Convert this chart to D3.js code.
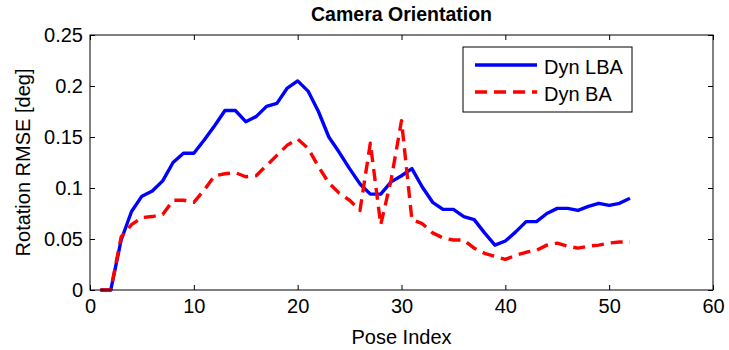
<!DOCTYPE html>
<html>
<head>
<meta charset="utf-8">
<script src="https://cdn.jsdelivr.net/npm/d3@7"></script>
<style>
  html, body { margin: 0; padding: 0; background: #fff; }
  svg text { font-family: "Liberation Sans", Arial, sans-serif; fill: #000; }
</style>
</head>
<body>
<svg id="chart" width="729" height="350"></svg>
<script>
// Pose indices 1..52
const poses = d3.range(1, 53);

const dynLBA = [
  0, 0, 0.049, 0.077, 0.092, 0.097, 0.107, 0.125, 0.134, 0.134,
  0.147, 0.161, 0.176, 0.176, 0.165, 0.170, 0.180, 0.183, 0.198, 0.205,
  0.195, 0.175, 0.150, 0.135, 0.119, 0.104, 0.094, 0.094, 0.106, 0.112,
  0.119, 0.101, 0.086, 0.079, 0.079, 0.072, 0.069, 0.056, 0.044, 0.048,
  0.057, 0.067, 0.067, 0.075, 0.080, 0.080, 0.078, 0.082, 0.085, 0.083,
  0.085, 0.090
];

const dynBA = [
  0, 0, 0.052, 0.064, 0.071, 0.072, 0.074, 0.088, 0.088, 0.086,
  0.098, 0.112, 0.114, 0.115, 0.111, 0.112, 0.122, 0.132, 0.142, 0.148,
  0.139, 0.121, 0.105, 0.095, 0.088, 0.078, 0.144, 0.064, 0.108, 0.166,
  0.069, 0.065, 0.056, 0.051, 0.049, 0.049, 0.041, 0.036, 0.033, 0.030,
  0.034, 0.037, 0.039, 0.044, 0.046, 0.043, 0.041, 0.043, 0.044, 0.046,
  0.047, 0.047
];

const xTicks = [0, 10, 20, 30, 40, 50, 60];
const yTicks = [0, 0.05, 0.1, 0.15, 0.2, 0.25];

const series = [
  { name: "Dyn LBA", values: dynLBA, color: "#0000ff", dash: null },
  { name: "Dyn BA", values: dynBA, color: "#ff0000", dash: "12,7" }
];

const svg = d3.select("#chart");
const margin = { left: 90, top: 35, right: 16, bottom: 60 };
const W = 729, H = 350;
const innerW = W - margin.left - margin.right;
const innerH = H - margin.top - margin.bottom;

const x = d3.scaleLinear().domain([0, 60]).range([margin.left, margin.left + innerW]);
const y = d3.scaleLinear().domain([0, 0.25]).range([margin.top + innerH, margin.top]);

// clip to plot area
svg.append("defs").append("clipPath").attr("id", "plotclip")
  .append("rect").attr("x", margin.left).attr("y", margin.top - 2)
  .attr("width", innerW).attr("height", innerH + 4);

// series lines
const line = d3.line().x((d, i) => x(poses[i])).y(d => y(d));
const g = svg.append("g").attr("clip-path", "url(#plotclip)");
series.forEach(s => {
  g.append("path")
    .datum(s.values)
    .attr("d", line)
    .attr("fill", "none")
    .attr("stroke", s.color)
    .attr("stroke-width", 3.4)
    .attr("stroke-linejoin", "round")
    .attr("stroke-dasharray", s.dash);
});

// axes with inward ticks, mirrored on top and right
const tickLen = 5;
const axB = svg.append("g").attr("transform", `translate(0,${margin.top + innerH})`)
  .call(d3.axisBottom(x).tickValues(xTicks).tickFormat(d3.format("d")).tickSize(-tickLen).tickPadding(9));
const axT = svg.append("g").attr("transform", `translate(0,${margin.top})`)
  .call(d3.axisTop(x).tickValues(xTicks).tickSize(-tickLen).tickFormat(""));
const axL = svg.append("g").attr("transform", `translate(${margin.left},0)`)
  .call(d3.axisLeft(y).tickValues(yTicks).tickFormat(d => d === 0 ? "0" : String(+d.toFixed(2))).tickSize(-tickLen).tickPadding(7));
const axR = svg.append("g").attr("transform", `translate(${margin.left + innerW},0)`)
  .call(d3.axisRight(y).tickValues(yTicks).tickSize(-tickLen).tickFormat(""));

[axB, axT, axL, axR].forEach(a => {
  a.select(".domain").remove();
  a.selectAll("line").attr("stroke", "#000").attr("stroke-width", 1);
  a.selectAll("text").style("font-size", "20px").attr("fill", "#000");
});

// frame
svg.append("rect")
  .attr("x", margin.left).attr("y", margin.top)
  .attr("width", innerW).attr("height", innerH)
  .attr("fill", "none").attr("stroke", "#000").attr("stroke-width", 1);

// title and labels
svg.append("text").attr("x", x(30)).attr("y", 21)
  .attr("text-anchor", "middle").style("font-size", "19.5px").style("font-weight", "bold")
  .text("Camera Orientation");
svg.append("text").attr("x", x(30)).attr("y", 344)
  .attr("text-anchor", "middle").style("font-size", "20px")
  .text("Pose Index");
svg.append("text")
  .attr("transform", `translate(30,${y(0.125)}) rotate(-90)`)
  .attr("text-anchor", "middle").style("font-size", "20px")
  .text("Rotation RMSE [deg]");

// legend
const lg = svg.append("g").attr("transform", "translate(463,47)");
lg.append("rect").attr("width", 169).attr("height", 65)
  .attr("fill", "#fff").attr("stroke", "#000").attr("stroke-width", 1);
series.forEach((s, i) => {
  const ly = 18 + i * 27;
  lg.append("line").attr("x1", 12).attr("x2", 74).attr("y1", ly).attr("y2", ly)
    .attr("stroke", s.color).attr("stroke-width", 3.4).attr("stroke-dasharray", s.dash);
  lg.append("text").attr("x", 81).attr("y", ly + 9).style("font-size", "20px").text(s.name);
});
</script>
</body>
</html>
